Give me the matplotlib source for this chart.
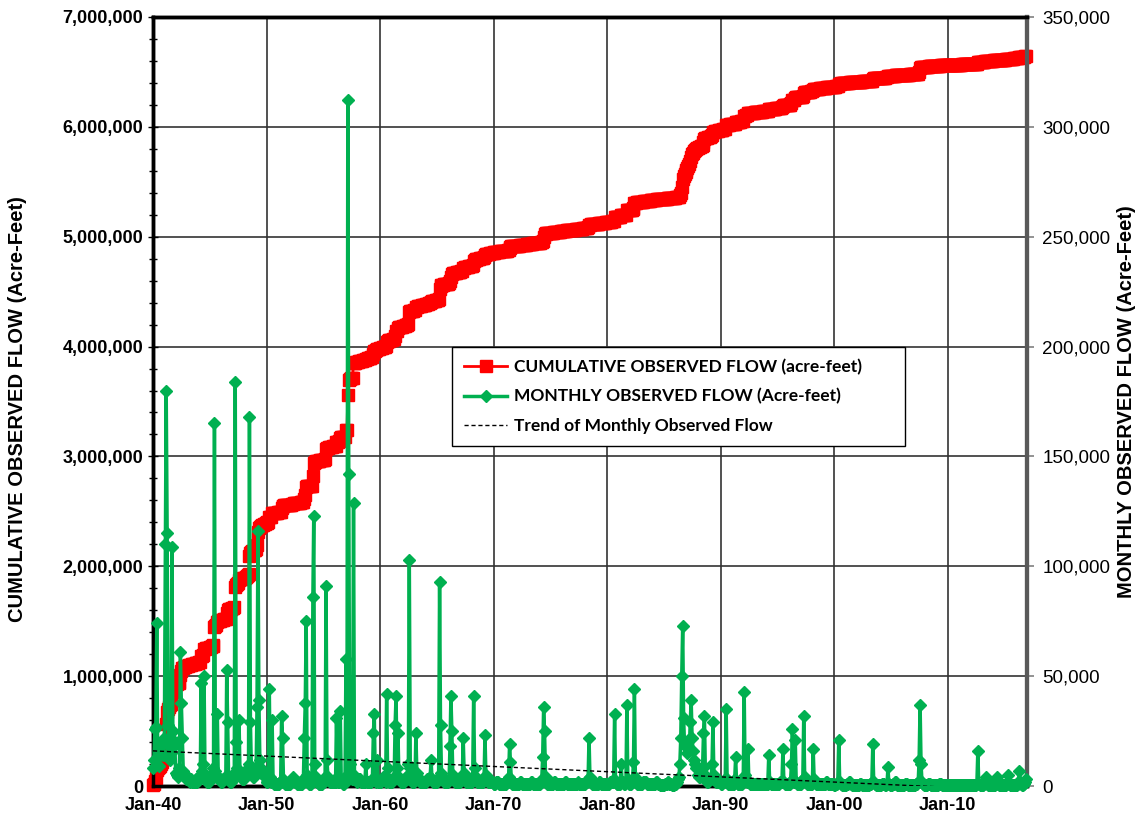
import matplotlib
matplotlib.use('Agg')
import matplotlib.pyplot as plt
import matplotlib.dates as mdates
from matplotlib.ticker import FuncFormatter, MultipleLocator
import numpy as np
import pandas as pd

# monthly observed flow in thousand acre-feet, Jan 1940 .. Dec 2016 (one row per year)
monthly_kaf = [
    8, 12, 26, 27, 74, 13, 9, 14, 18, 20, 15, 14,            # 1940
    22, 110, 180, 115, 28, 18, 12, 15, 109, 25, 18, 20,      # 1941
    6, 5, 4, 5, 8, 61, 38, 22, 7, 5, 4, 3,                   # 1942
    3, 4, 3, 2, 3, 2, 2, 2, 2, 3, 2, 2,                      # 1943
    3, 4, 5, 47, 7, 10, 50, 5, 3, 2, 2, 2,                   # 1944
    3, 4, 5, 6, 8, 165, 7, 5, 33, 4, 3, 3,                   # 1945
    2, 2, 3, 3, 4, 4, 53, 29, 3, 2, 2, 2,                    # 1946
    3, 4, 6, 184, 20, 8, 5, 30, 6, 4, 3, 3,                  # 1947
    3, 4, 5, 6, 8, 10, 168, 29, 8, 5, 4, 4,                  # 1948
    5, 8, 36, 116, 39, 12, 8, 6, 5, 5, 4, 6,                 # 1949
    2, 2, 4, 44, 4, 2, 30, 2, 1, 1, 1, 1,                    # 1950
    1, 1, 2, 2, 32, 22, 3, 2, 1, 1, 1, 1,                    # 1951
    1, 1, 2, 3, 4, 3, 2, 2, 1, 1, 1, 1,                      # 1952
    1, 1, 2, 3, 22, 38, 75, 5, 2, 1, 1, 1,                   # 1953
    2, 86, 123, 10, 4, 2, 2, 1, 1, 1, 1, 1,                  # 1954
    2, 2, 4, 91, 12, 4, 3, 2, 2, 2, 2, 2,                    # 1955
    2, 2, 31, 4, 2, 2, 34, 3, 2, 1, 1, 2,                    # 1956
    58, 5, 312, 142, 10, 5, 3, 3, 129, 5, 3, 3,              # 1957
    2, 3, 3, 3, 2, 2, 2, 2, 2, 10, 2, 2,                     # 1958
    2, 2, 2, 2, 3, 24, 33, 3, 2, 12, 2, 2,                   # 1959
    2, 2, 3, 4, 3, 3, 2, 42, 8, 3, 2, 2,                     # 1960
    2, 2, 3, 4, 28, 41, 8, 24, 4, 3, 2, 2,                   # 1961
    2, 2, 3, 4, 4, 3, 10, 103, 8, 3, 2, 2,                   # 1962
    2, 3, 24, 6, 4, 3, 2, 2, 2, 2, 2, 2,                     # 1963
    2, 2, 3, 3, 3, 4, 12, 3, 2, 2, 2, 2,                     # 1964
    2, 3, 4, 93, 28, 6, 4, 3, 2, 2, 2, 2,                    # 1965
    2, 3, 18, 41, 25, 5, 3, 2, 2, 2, 2, 2,                   # 1966
    2, 2, 3, 4, 22, 6, 3, 2, 2, 2, 2, 2,                     # 1967
    2, 2, 4, 41, 8, 4, 3, 2, 2, 2, 2, 2,                     # 1968
    2, 2, 3, 23, 5, 3, 2, 2, 2, 2, 2, 2,                     # 1969
    1, 1, 1, 2, 2, 2, 1, 1, 1, 1, 1, 1,                      # 1970
    1, 1, 2, 2, 4, 19, 11, 2, 1, 1, 1, 1,                    # 1971
    1, 1, 1, 1, 2, 2, 1, 1, 1, 1, 1, 1,                      # 1972
    1, 1, 1, 1, 2, 2, 1, 1, 1, 1, 1, 1,                      # 1973
    1, 1, 2, 3, 13, 36, 25, 4, 2, 1, 1, 1,                   # 1974
    1, 1, 1, 1, 2, 2, 1, 1, 1, 1, 1, 1,                      # 1975
    1, 1, 1, 1, 2, 2, 1, 1, 1, 1, 1, 1,                      # 1976
    1, 1, 1, 1, 1, 2, 1, 1, 1, 1, 1, 1,                      # 1977
    1, 1, 2, 2, 3, 22, 4, 2, 1, 1, 1, 1,                     # 1978
    1, 1, 1, 1, 2, 2, 1, 1, 1, 1, 1, 1,                      # 1979
    1, 1, 1, 2, 2, 2, 2, 3, 33, 2, 1, 1,                     # 1980
    1, 1, 1, 10, 2, 2, 1, 1, 2, 37, 3, 1,                    # 1981
    1, 1, 2, 3, 11, 44, 4, 2, 1, 1, 1, 1,                    # 1982
    1, 1, 2, 2, 2, 2, 1, 1, 1, 1, 1, 1,                      # 1983
    1, 1, 1, 1, 2, 2, 1, 1, 0.5, 0.5, 0.5, 0.5,              # 1984
    0.5, 1, 1, 1, 2, 2, 1, 1, 1, 0.5, 0.5, 0.5,              # 1985
    1, 1, 2, 3, 4, 10, 22, 50, 73, 31, 18, 20,               # 1986
    18, 15, 21, 16, 29, 39, 22, 16, 12, 10, 8, 8,            # 1987
    5, 4, 4, 5, 6, 8, 24, 32, 5, 3, 2, 2,                    # 1988
    3, 3, 3, 10, 29, 5, 3, 2, 2, 2, 2, 2,                    # 1989
    1, 1, 2, 2, 2, 3, 35, 3, 1, 1, 1, 1,                     # 1990
    1, 1, 1, 3, 13, 2, 1, 1, 1, 1, 1, 1,                     # 1991
    3, 43, 5, 3, 2, 17, 2, 1, 1, 1, 1, 1,                    # 1992
    1, 1, 1, 1, 1, 1, 1, 1, 1, 1, 1, 1,                      # 1993
    1, 1, 1, 14, 2, 1, 1, 1, 1, 1, 1, 1,                     # 1994
    1, 1, 1, 2, 2, 2, 17, 2, 1, 1, 1, 1,                     # 1995
    1, 1, 2, 10, 26, 3, 2, 21, 2, 1, 1, 1,                   # 1996
    1, 1, 2, 3, 32, 4, 2, 1, 1, 1, 1, 1,                     # 1997
    1, 1, 17, 3, 2, 1, 1, 1, 1, 1, 1, 1,                     # 1998
    1, 1, 1, 1, 2, 2, 1, 1, 1, 1, 1, 1,                      # 1999
    0.5, 0.5, 1, 1, 2, 21, 2, 1, 0.5, 0.5, 0.5, 0.5,         # 2000
    0.5, 0.5, 1, 1, 2, 2, 1, 0.5, 0.5, 0.5, 0.5, 0.5,        # 2001
    0.5, 0.5, 0.5, 1, 1, 1, 0.5, 0.5, 0.5, 0.5, 0.5, 0.5,    # 2002
    0.5, 0.5, 1, 1, 2, 19, 2, 1, 0.5, 0.5, 0.5, 0.5,         # 2003
    0.5, 0.5, 0.5, 1, 1, 1, 0.5, 0.5, 1, 8.5, 1, 0.5,        # 2004
    0.5, 0.5, 1, 1, 2, 2, 1, 0.5, 0.5, 0.5, 0.5, 0.5,        # 2005
    0.5, 0.5, 0.5, 1, 1, 1, 0.5, 0.5, 0.5, 0.5, 0.5, 0.5,    # 2006
    0.5, 0.5, 0.5, 1, 1, 2, 12, 37, 10, 2, 1, 0.5,           # 2007
    0.5, 0.5, 0.5, 1, 1, 1, 0.5, 0.5, 0.5, 0.5, 0.5, 0.5,    # 2008
    0.5, 0.5, 0.5, 1, 1, 1, 0.5, 0.5, 0.5, 0.5, 0.5, 0.5,    # 2009
    0.3, 0.3, 0.5, 0.5, 0.5, 0.5, 0.3, 0.3, 0.3, 0.3, 0.3, 0.3,  # 2010
    0.3, 0.5, 0.5, 0.5, 0.5, 0.5, 0.5, 0.3, 0.3, 0.3, 0.3, 0.3,  # 2011
    0.3, 0.3, 0.5, 0.5, 0.5, 0.5, 0.5, 1, 16, 1, 0.5, 0.3,       # 2012
    0.3, 0.3, 0.5, 1, 2, 4, 1, 0.5, 0.3, 0.3, 0.3, 0.3,          # 2013
    0.3, 0.3, 0.5, 1, 4, 1, 0.5, 0.3, 0.3, 0.3, 0.3, 0.3,        # 2014
    0.3, 0.3, 0.5, 1, 5, 1, 0.5, 0.3, 0.3, 0.3, 0.3, 0.3,        # 2015
    0.5, 0.5, 1, 2, 7, 2, 1, 0.5, 0.5, 1, 2, 3,                  # 2016
]

# linear trend of monthly flow (acre-feet) at first and last month
trend_ends = [16000, -2200]

decade_ticks = ['1940-01-01', '1950-01-01', '1960-01-01', '1970-01-01',
                '1980-01-01', '1990-01-01', '2000-01-01', '2010-01-01']

monthly = np.array(monthly_kaf) * 1000.0
dates = pd.date_range('1940-01-01', periods=len(monthly), freq='MS')
cumulative = np.cumsum(monthly)

red = '#FF0000'
green = '#00B050'
tick_font = 'Liberation Sans'

fig = plt.figure(figsize=(11.4, 8.21), dpi=100)
ax = fig.add_axes([0.1342, 0.0426, 0.7667, 0.9367])

ax.plot(dates, cumulative, color=red, lw=2, marker='s', ms=8.5, mec=red,
        clip_on=False, zorder=3, label='CUMULATIVE OBSERVED FLOW (acre-feet)')

ax2 = ax.twinx()
ax2.plot(dates, monthly, color=green, lw=2.5, marker='D', ms=6, mec=green,
         clip_on=False, zorder=3, label='MONTHLY OBSERVED FLOW (Acre-feet)')
ax2.plot([dates[0], dates[-1]], trend_ends, color='black', lw=1, ls=(0, (3, 2)),
         zorder=4, label='Trend of Monthly Observed Flow')

# axes ranges
ax.set_xlim(pd.Timestamp('1940-01-01'), pd.Timestamp('2017-01-01'))
ax.set_ylim(0, 7000000)
ax2.set_ylim(0, 350000)

ax.set_xticks(pd.to_datetime(decade_ticks))
ax.xaxis.set_major_formatter(mdates.DateFormatter('%b-%y'))
ax.yaxis.set_major_locator(MultipleLocator(1000000))
ax.yaxis.set_minor_locator(MultipleLocator(200000))
ax2.yaxis.set_major_locator(MultipleLocator(50000))
fmt = FuncFormatter(lambda v, p: f'{v:,.0f}')
ax.yaxis.set_major_formatter(fmt)
ax2.yaxis.set_major_formatter(fmt)

ax.grid(True, which='major', color='#333333', lw=1.2)
ax.set_axisbelow(True)

ax.tick_params(axis='x', length=0, pad=8)
ax.tick_params(axis='y', which='major', direction='inout', length=7, width=1)
ax.tick_params(axis='y', which='minor', direction='inout', length=6, width=1)
ax2.tick_params(axis='y', length=5, width=1.2, color='#808080', pad=6)

for lab in ax.get_xticklabels() + ax.get_yticklabels():
    lab.set_fontfamily(tick_font)
    lab.set_fontweight('bold')
    lab.set_fontsize(13)
for lab in ax2.get_yticklabels():
    lab.set_fontfamily(tick_font)
    lab.set_fontsize(13.5)

for a in (ax, ax2):
    for side in ('left', 'top', 'bottom'):
        a.spines[side].set_color('black')
        a.spines[side].set_linewidth(2.5)
    a.spines['right'].set_color('#595959')
    a.spines['right'].set_linewidth(3)

ax.set_ylabel('CUMULATIVE OBSERVED FLOW (Acre-Feet)', fontfamily=tick_font,
              fontweight='bold', fontsize=14.5)
ax.yaxis.set_label_coords(-0.144, 0.49)
ax2.set_ylabel('MONTHLY OBSERVED FLOW (Acre-Feet)', fontfamily=tick_font,
               fontweight='bold', fontsize=14.5, rotation=90)
ax2.yaxis.set_label_coords(1.103, 0.50)

h1, l1 = ax.get_legend_handles_labels()
h2, l2 = ax2.get_legend_handles_labels()
leg = ax2.legend(h1 + h2, l1 + l2, loc='upper left',
                 bbox_to_anchor=(0.342, 0.442, 0.518, 0.129), mode='expand',
                 fancybox=False, framealpha=1, edgecolor='black',
                 prop={'family': 'Lato', 'weight': 'bold', 'size': 12.5},
                 handlelength=2.5, labelspacing=0.75, borderpad=0.7,
                 handletextpad=0.4, borderaxespad=0)
leg.get_frame().set_linewidth(1)
leg.set_zorder(10)

fig.savefig('out.png', dpi=100)
